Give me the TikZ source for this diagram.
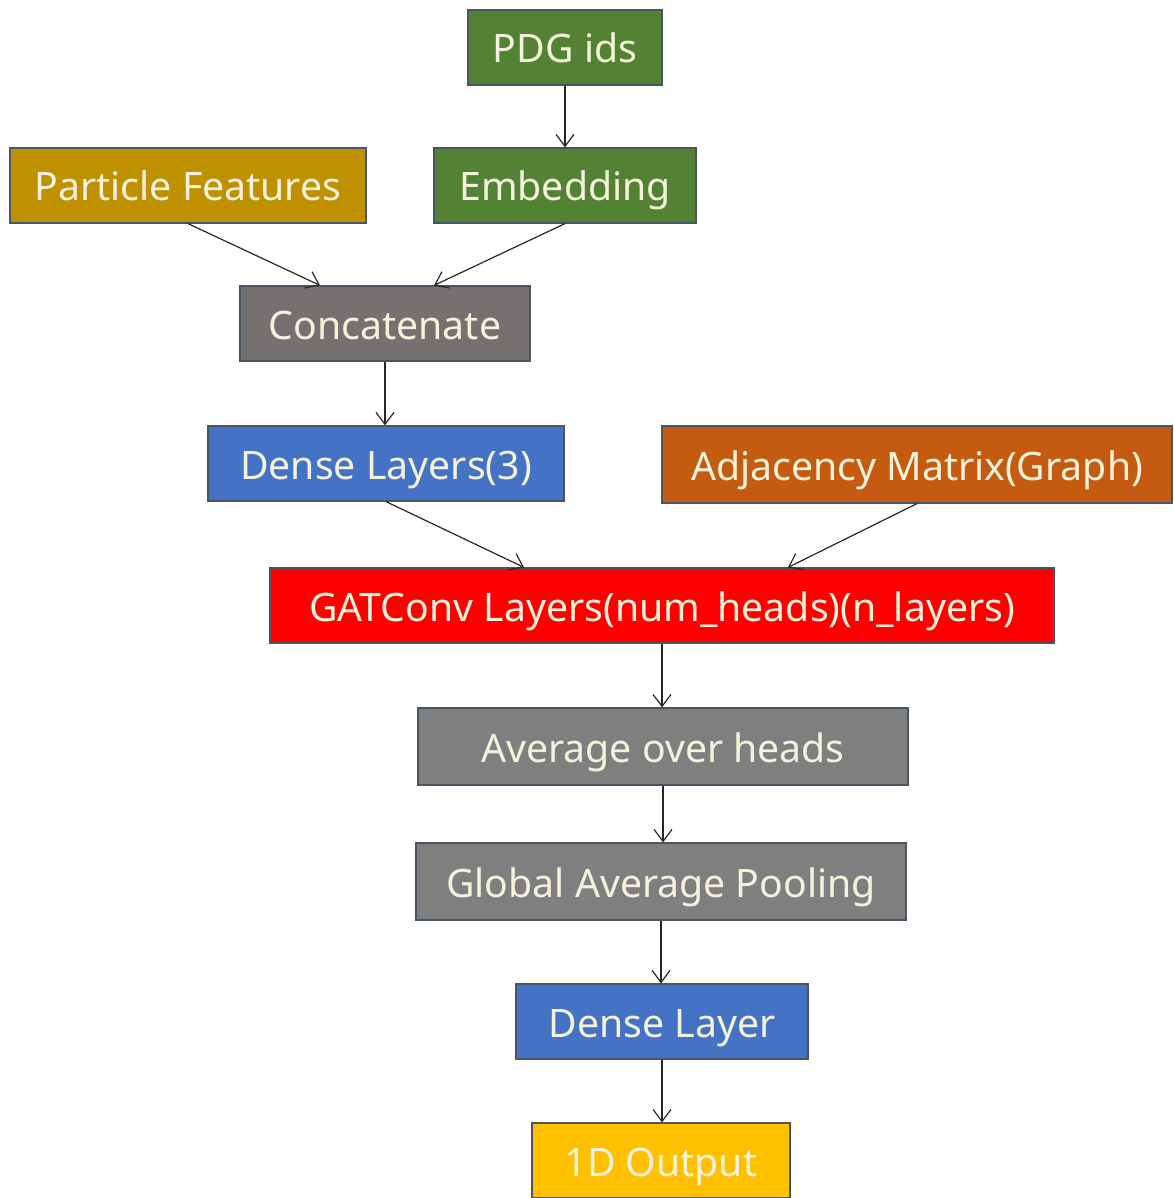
\documentclass[tikz,border=0pt]{standalone}
\usepackage{fontspec}
\setmainfont{Noto Sans}
\usetikzlibrary{arrows.meta}
\definecolor{cgreen}{HTML}{548235}
\definecolor{cgold}{HTML}{BF9000}
\definecolor{cdgray}{HTML}{767171}
\definecolor{cblue}{HTML}{4472C4}
\definecolor{corange}{HTML}{C55A11}
\definecolor{cred}{HTML}{FF0000}
\definecolor{cgray}{HTML}{7F7F7F}
\definecolor{cyellow}{HTML}{FFC000}
\definecolor{ctext}{HTML}{F5F2DC}
\definecolor{cedge}{HTML}{4A5563}
\begin{document}
\begin{tikzpicture}[x=0.5pt,y=-0.5pt,
  box/.style={draw=cedge,line width=0.6pt,minimum height=37.5pt,inner sep=0pt,
    text height=15.5pt,text depth=0pt,
    text=ctext,font=\fontsize{19.6}{22}\selectfont},
  flow/.style={draw=black!85,line width=0.6pt,-{Straight Barb[length=6pt,width=9pt]}}]
\useasboundingbox (0,0) rectangle (1173,1198);
\node[box,fill=cgreen,minimum width=97pt] (pdg) at (565,47.5) {PDG ids};
\node[box,fill=cgold,minimum width=178pt] (pf) at (188,185.5) {Particle Features};
\node[box,fill=cgreen,minimum width=131pt] (emb) at (565,185.5) {Embedding};
\node[box,fill=cdgray,minimum width=145pt] (cat) at (385,323.5) {Concatenate};
\node[box,fill=cblue,minimum width=178pt] (dl3) at (386,463.5) {Dense Layers(3)};
\node[box,fill=corange,minimum width=255pt,minimum height=38.5pt] (adj) at (917,464.5) {Adjacency Matrix(Graph)};
\node[box,fill=cred,minimum width=392pt] (gat) at (662,605.5) {GATConv Layers(num\_heads)(n\_layers)};
\node[box,fill=cgray,minimum width=245pt,minimum height=38.5pt] (avg) at (663,746.5) {Average over heads};
\node[box,fill=cgray,minimum width=245pt,minimum height=38.5pt] (gap) at (661,881.5) {Global Average Pooling};
\node[box,fill=cblue,minimum width=146pt] (dl) at (662,1021.5) {Dense Layer};
\node[box,fill=cyellow,minimum width=129pt] (out) at (661,1160.5) {1D Output};

\draw[flow] (pdg.south) -- (emb.north);
\draw[flow] (pf.south) -- ([xshift=-32.5pt]cat.north);
\draw[flow] (emb.south) -- ([xshift=24.5pt]cat.north);
\draw[flow] (cat.south) -- (cat.south |- dl3.north);
\draw[flow] (dl3.south) -- ([xshift=-69pt]gat.north);
\draw[flow] (adj.south) -- ([xshift=63pt]gat.north);
\draw[flow] (gat.south) -- (gat.south |- avg.north);
\draw[flow] (avg.south) -- (avg.south |- gap.north);
\draw[flow] (gap.south) -- (gap.south |- dl.north);
\draw[flow] (dl.south) -- (dl.south |- out.north);
\end{tikzpicture}
\end{document}
